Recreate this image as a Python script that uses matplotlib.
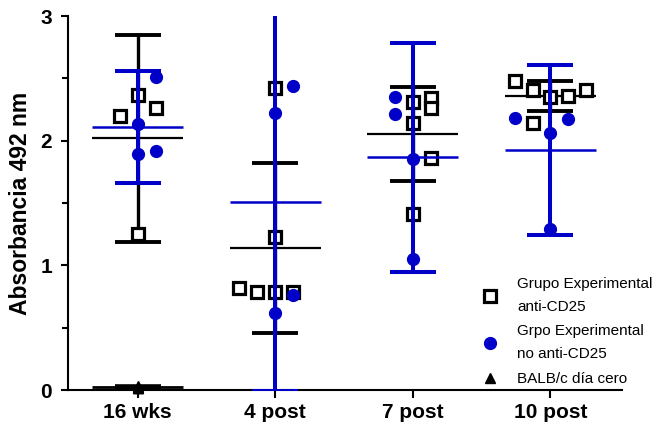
import numpy as np
import matplotlib
matplotlib.use("Agg")
import matplotlib.pyplot as plt
from matplotlib.lines import Line2D

plt.rcParams['font.family'] = ['Liberation Sans', 'DejaVu Sans']

# categories on the x axis
grupos = ['16 wks', '4 post', '7 post', '10 post']

# Grupo Experimental anti-CD25 (open squares)
anti_vals = [
    [2.20, 2.37, 2.26, 1.25],
    [2.42, 1.23, 0.82, 0.79, 0.79, 0.79],
    [2.31, 2.34, 2.26, 2.14, 1.86, 1.41],
    [2.48, 2.41, 2.35, 2.36, 2.41, 2.14],
]
anti_err = [0.83, 0.68, 0.375, 0.118]

# Grpo Experimental no anti-CD25 (filled circles)
no_anti_vals = [
    [2.51, 2.13, 1.89, 1.92],
    [2.44, 2.22, 0.76, 0.62],
    [2.35, 2.21, 1.85, 1.05],
    [2.18, 2.17, 2.06, 1.29],
]
no_anti_err = [0.45, 1.52, 0.92, 0.68]

# BALB/c dia cero (triangles), only at 16 wks
balb_vals = [0.02, 0.02, 0.03, 0.02]
balb_err = 0.01

# horizontal spread of the points (in steps)
anti_jit = [[-1, 0, 1, 0], [0, 0, -2, -1, 0, 1], [0, 1, 1, 0, 1, 0], [-2, -1, 0, 1, 2, -1]]
no_anti_jit = [[1, 0, 0, 1], [1, 0, 1, 0], [-1, -1, 0, 0], [-2, 1, 0, 0]]
step = 0.13

azul = '#0000c8'

fig = plt.figure(figsize=(6.58, 4.28), dpi=100)
ax = fig.add_axes([67.5 / 658, 38 / 428, 554.5 / 658, 374 / 428])

x = np.arange(len(grupos))
mw = 0.33

# BALB/c
ax.errorbar(0, np.mean(balb_vals), yerr=balb_err, color='black', elinewidth=2.4,
            capsize=16.5, capthick=2.6, zorder=2, clip_on=False)
ax.hlines(np.mean(balb_vals), -mw, mw, color='black', lw=2.0, zorder=2, clip_on=False)
ax.plot(np.zeros(len(balb_vals)), balb_vals, '^', color='black', ms=7, zorder=3, clip_on=False)

# anti-CD25
for i, vals in enumerate(anti_vals):
    m = np.mean(vals)
    ax.errorbar(x[i], m, yerr=anti_err[i], color='black', elinewidth=2.4,
                capsize=16.5, capthick=2.8, zorder=2)
    ax.hlines(m, x[i] - mw, x[i] + mw, color='black', lw=1.6, zorder=2)
    ax.plot(x[i] + step * np.array(anti_jit[i]), vals, 's', mfc='white', mec='black',
            ms=8, mew=2.3, zorder=3)

# no anti-CD25
for i, vals in enumerate(no_anti_vals):
    m = np.mean(vals)
    ax.errorbar(x[i], m, yerr=no_anti_err[i], color=azul, elinewidth=2.9,
                capsize=16.5, capthick=2.9, zorder=4)
    ax.hlines(m, x[i] - mw, x[i] + mw, color=azul, lw=1.8, zorder=4)
    ax.plot(x[i] + step * np.array(no_anti_jit[i]), vals, 'o', color=azul,
            ms=8.5, zorder=5)

ax.set_xlim(-0.51, 3.52)
ax.set_ylim(0, 3)
ax.set_xticks(x)
ax.set_xticklabels(grupos, fontsize=15, fontweight='bold')
ax.set_yticks([0, 1, 2, 3])
ax.set_yticks([0.5, 1.5, 2.5], minor=True)
ax.set_yticklabels(['0', '1', '2', '3'], fontsize=15, fontweight='bold')
ax.set_ylabel('Absorbancia 492 nm', fontsize=16.5, fontweight='bold', labelpad=6)

for s in ['top', 'right']:
    ax.spines[s].set_visible(False)
for s in ['left', 'bottom']:
    ax.spines[s].set_linewidth(1.5)
ax.tick_params(axis='y', which='major', length=5, width=1.5, pad=6)
ax.tick_params(axis='y', which='minor', length=4, width=1.5)
ax.tick_params(axis='x', length=6, width=1.5, pad=3)

handles = [
    Line2D([], [], ls='none', marker='s', mfc='white', mec='black', ms=8, mew=2.3),
    Line2D([], [], ls='none', marker='o', color=azul, ms=8.5),
    Line2D([], [], ls='none', marker='^', color='black', ms=7),
]
labels = ['Grupo Experimental\nanti-CD25', 'Grpo Experimental\nno anti-CD25', 'BALB/c día cero']
leg = ax.legend(handles, labels, loc='upper left', bbox_to_anchor=(482 / 658, 1 - 277 / 428),
                bbox_transform=fig.transFigure, frameon=False, fontsize=11,
                handlelength=1.0, handletextpad=1.3, labelspacing=0.7,
                borderpad=0, borderaxespad=0)
for t in leg.get_texts():
    t.set_linespacing(1.8)

fig.savefig('out.png', dpi=100)
